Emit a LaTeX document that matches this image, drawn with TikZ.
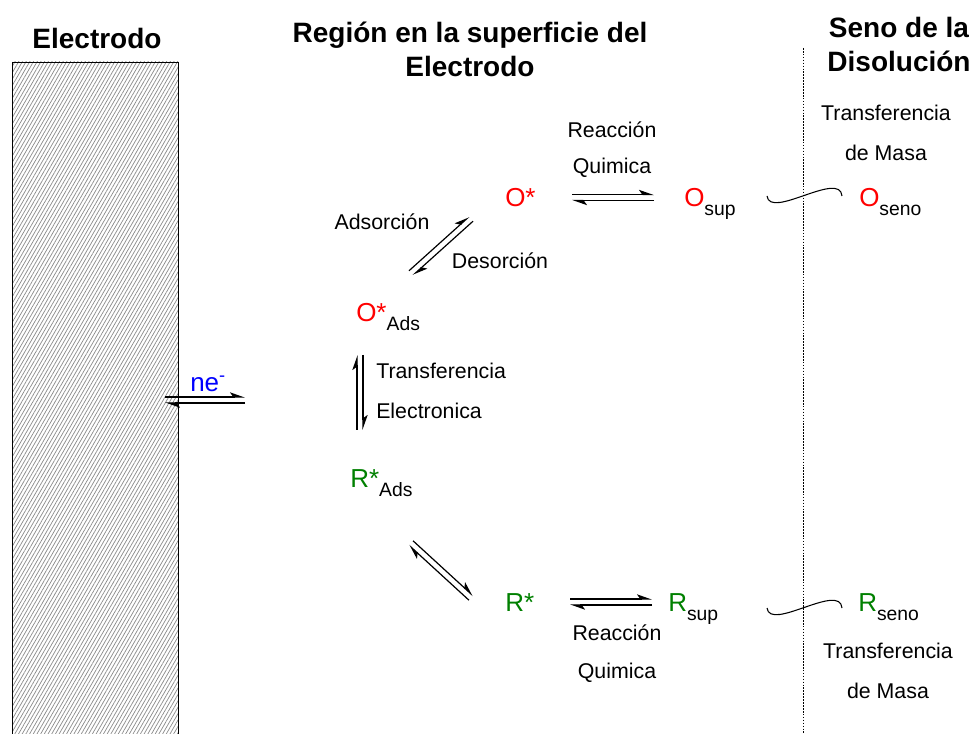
\documentclass[tikz,border=0pt]{standalone}
\usepackage{fontspec}
\setmainfont{Liberation Sans}
\usetikzlibrary{arrows.meta,calc,patterns.meta}

\definecolor{spred}{RGB}{255,0,0}
\definecolor{spgreen}{RGB}{0,128,0}
\definecolor{spblue}{RGB}{0,0,255}

\newcommand{\lowsub}[1]{\raisebox{-6.5pt}{\fontsize{14.5}{14.5}\selectfont #1}}
\newcommand{\eqarrows}[2]{%
  \draw[harp] ($(#1)!2.25pt!90:(#2)$) -- ($(#2)!2.25pt!-90:(#1)$);
  \draw[harp] ($(#2)!2.25pt!90:(#1)$) -- ($(#1)!2.25pt!-90:(#2)$);}

\tikzset{
  harp/.style={-{Stealth[harpoon,length=10pt,width=7pt,inset=2.5pt]}, line width=0.9pt},
  txt/.style={font=\fontsize{16}{19}\selectfont, inner sep=0pt},
  ttl/.style={font=\bfseries\fontsize{21}{25.5}\selectfont, align=center, inner sep=0pt},
  spc/.style={font=\fontsize{19.5}{22}\selectfont, inner sep=0pt, anchor=base west},
  wave/.style={line width=0.8pt}
}

\begin{document}
\begin{tikzpicture}[x=0.75pt,y=-0.75pt]
  \useasboundingbox (0,0) rectangle (976,734);

  % electrodo
  \draw[pattern={Lines[angle=60,distance=2.4pt,line width=0.55pt]}, pattern color=gray!90]
    (12,62) rectangle (178,734);
  \draw[dash pattern=on 1.2pt off 1pt, line width=0.6pt] (803,48) -- (803,734);

  % titulos
  \node[ttl] (eltitle) at (97,38) {Electrodo};
  \node[ttl] (regtitle) at (470,49) {Región en la superficie del\\Electrodo};
  \node[ttl] (senotitle) at (899,44) {Seno de la\\Disolución};

  % especies
  \node[spc] (ne) at (190,392) {\textcolor{spblue}{ne\textsuperscript{-}}};
  \node[spc] (Ostar) at (505,207) {\textcolor{spred}{O*}};
  \node[spc] (Osup) at (684,207) {\textcolor{spred}{O}\lowsub{sup}};
  \node[spc] (Oseno) at (859,207) {\textcolor{spred}{O}\lowsub{seno}};
  \node[spc] (OAds) at (356,322) {\textcolor{spred}{O*}\lowsub{Ads}};
  \node[spc] (RAds) at (350,488) {\textcolor{spgreen}{R*}\lowsub{Ads}};
  \node[spc] (Rstar) at (505,612) {\textcolor{spgreen}{R*}};
  \node[spc] (Rsup) at (668,612) {\textcolor{spgreen}{R}\lowsub{sup}};
  \node[spc] (Rseno) at (858,612) {\textcolor{spgreen}{R}\lowsub{seno}};

  % textos
  \node[txt] (reacA) at (612,130) {Reacción};
  \node[txt] (quimA) at (612,168) {Quimica};
  \node[txt] (tmA) at (886,113) {Transferencia};
  \node[txt] (dmA) at (886,153) {de Masa};
  \node[txt] (ads) at (382,222) {Adsorción};
  \node[txt] (des) at (500,261) {Desorción};
  \node[txt, anchor=west] (teA) at (376,371) {Transferencia};
  \node[txt, anchor=west] (teB) at (376,411) {Electronica};
  \node[txt] (reacB) at (617,633) {Reacción};
  \node[txt] (quimB) at (617,673) {Quimica};
  \node[txt] (tmB) at (888,651) {Transferencia};
  \node[txt] (dmB) at (888,691) {de Masa};

  % flechas de equilibrio
  \coordinate (neA) at (165,400);
  \coordinate (neB) at (245,400);
  \coordinate (qA) at (572,197.5);
  \coordinate (qB) at (654,197.5);
  \coordinate (adA) at (411,273);
  \coordinate (adB) at (471,219);
  \coordinate (etA) at (360,430);
  \coordinate (etB) at (360,355);
  \coordinate (rdA) at (411,543);
  \coordinate (rdB) at (471,598);
  \coordinate (rqA) at (570,602);
  \coordinate (rqB) at (652,602);
  \eqarrows{neA}{neB}
  \eqarrows{qA}{qB}
  \eqarrows{adA}{adB}
  \eqarrows{etA}{etB}
  \eqarrows{rdA}{rdB}
  \eqarrows{rqA}{rqB}

  % transferencia de masa
  \coordinate (wOa) at (767,196);
  \coordinate (wOb) at (842,196);
  \coordinate (wRa) at (767,608);
  \coordinate (wRb) at (842,608);
  \draw[wave] (wOa) .. controls ($(wOa)+(3,24)$) and ($(wOb)+(-2,-26)$) .. (wOb);
  \draw[wave] (wRa) .. controls ($(wRa)+(3,24)$) and ($(wRb)+(-2,-26)$) .. (wRb);
\end{tikzpicture}
\end{document}
